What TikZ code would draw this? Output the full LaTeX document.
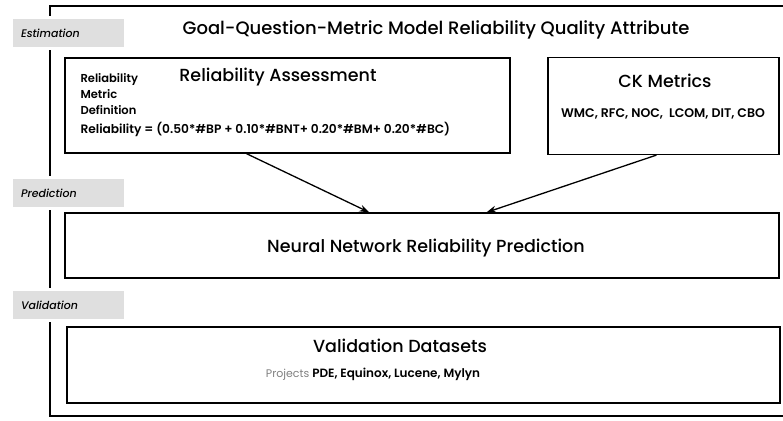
\documentclass[tikz,border=0pt]{standalone}
\usepackage{fontspec}
\setmainfont{Poppins}
\newfontfamily\medfont{Poppins Medium}
\newfontfamily\semifont{Poppins SemiBold}
\usetikzlibrary{arrows.meta}

\tikzset{
  stage/.style={fill=gray!25, draw=white, line width=2.5pt, minimum height=31pt,
    text width=95pt, inner xsep=9pt, inner ysep=0pt, align=left,
    font=\medfont\fontsize{11}{12}\selectfont\itshape},
  block/.style={draw, line width=1.2pt, inner sep=0pt},
  head/.style={font=\medfont\fontsize{17.5}{20}\selectfont},
  small/.style={font=\semifont\fontsize{11.5}{16}\selectfont},
  flow/.style={-{Stealth[length=10pt,width=7pt]}, line width=1.3pt}
}

\begin{document}
\begin{tikzpicture}[x=1pt,y=-1pt]
\clip (0,0) rectangle (783,420);

% outer frame, open on the right
\draw[line width=1.2pt] (790,6) -- (50,6) -- (50,416) -- (790,416);

% stage labels
\node[stage] (est) at (68.5,33) {Estimation};
\node[stage] (pre) at (68.5,193) {Prediction};
\node[stage] (val) at (68.5,305) {Validation};

\node[font=\medfont\fontsize{18}{20}\selectfont] (title) at (436,30)
  {Goal-Question-Metric Model Reliability Quality Attribute};

% estimation blocks
\node[block, minimum width=445pt, minimum height=95pt] (rel) at (287.5,105.5) {};
\node[head] (reltitle) at (278,77) {Reliability Assessment};
\node[small, align=left, anchor=north west] (reldef) at (77,70)
  {Reliability\\Metric\\Definition};
\node[small, font=\semifont\fontsize{12.2}{14}\selectfont, anchor=west] (formula) at (77,129)
  {Reliability = (0.50*\#BP + 0.10*\#BNT+ 0.20*\#BM+ 0.20*\#BC)};

\node[block, minimum width=231pt, minimum height=97pt] (ck) at (663.5,106) {};
\node[head] (cktitle) at (665,81) {CK Metrics};
\node[small, font=\semifont\fontsize{12.5}{14}\selectfont] (cklist) at (663,114)
  {WMC, RFC, NOC,\ \ LCOM, DIT, CBO};

% prediction
\node[block, minimum width=714pt, minimum height=65pt] (nn) at (422,245.5) {};
\node[head] (nntitle) at (426,248) {Neural Network Reliability Prediction};

% validation
\node[block, minimum width=713pt, minimum height=76pt] (vd) at (423.5,365) {};
\node[head] (vdtitle) at (400,346) {Validation Datasets};
\node[small, font=\semifont\fontsize{12}{13}\selectfont] (vdlist) at (373,374)
  {{\fontsize{11}{13}\selectfont\color{gray}\rmfamily Projects}\ PDE, Equinox, Lucene, Mylyn};

\draw[flow] ([xshift=182pt]rel.south west) -- ([xshift=305pt]nn.north west);
\draw[flow] ([xshift=109pt]ck.south west) -- ([xshift=422pt]nn.north west);
\end{tikzpicture}
\end{document}
